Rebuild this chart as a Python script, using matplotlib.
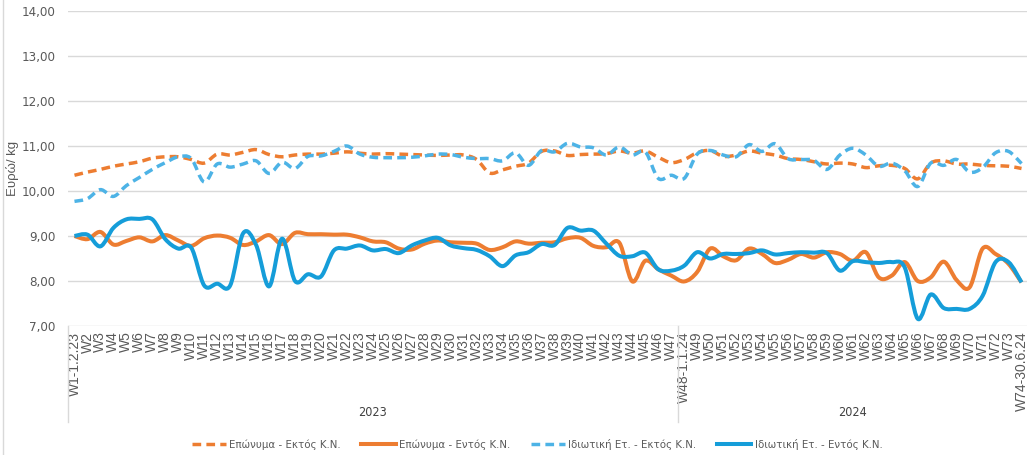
import numpy as np
import matplotlib
matplotlib.use('Agg')
import matplotlib.pyplot as plt
from matplotlib.path import Path
from matplotlib.patches import PathPatch
from matplotlib.lines import Line2D

plt.rcParams['font.family'] = ['Liberation Sans', 'DejaVu Sans']

# week categories W1..W74 (two year groups)
weeks = ['W1-1.2.23'] + ['W%d' % i for i in range(2, 48)] + ['W48-1.1.24'] + \
        ['W%d' % i for i in range(49, 74)] + ['W74-30.6.24']
years = ['2023', '2024']
year_span = [(1, 47), (48, 74)]

# Euro / kg
branded_out = [10.35, 10.42, 10.48, 10.55, 10.60, 10.65, 10.73, 10.76, 10.76, 10.70,
               10.62, 10.82, 10.80, 10.86, 10.92, 10.81, 10.76, 10.80, 10.82, 10.82,
               10.84, 10.87, 10.84, 10.82, 10.83, 10.82, 10.81, 10.80, 10.79, 10.80,
               10.80, 10.70, 10.40, 10.47, 10.55, 10.62, 10.88, 10.89, 10.79, 10.81,
               10.82, 10.83, 10.89, 10.84, 10.89, 10.75, 10.63, 10.70, 10.85, 10.90,
               10.77, 10.80, 10.89, 10.84, 10.80, 10.72, 10.70, 10.65, 10.60, 10.62,
               10.60, 10.52, 10.56, 10.57, 10.50, 10.27, 10.62, 10.67, 10.60, 10.60,
               10.57, 10.56, 10.55, 10.50]
branded_in = [9.00, 8.93, 9.09, 8.81, 8.89, 8.97, 8.88, 9.02, 8.90, 8.78,
              8.95, 9.01, 8.96, 8.80, 8.88, 9.02, 8.82, 9.07, 9.04, 9.04,
              9.03, 9.03, 8.97, 8.88, 8.86, 8.72, 8.70, 8.83, 8.90, 8.86,
              8.85, 8.83, 8.69, 8.75, 8.88, 8.83, 8.85, 8.86, 8.95, 8.96,
              8.78, 8.75, 8.85, 7.99, 8.45, 8.26, 8.12, 7.99, 8.20, 8.72,
              8.55, 8.46, 8.72, 8.60, 8.40, 8.47, 8.60, 8.52, 8.64, 8.60,
              8.45, 8.64, 8.08, 8.12, 8.42, 8.00, 8.08, 8.43, 8.02, 7.86,
              8.72, 8.60, 8.38, 7.97]
private_out = [9.77, 9.83, 10.03, 9.88, 10.12, 10.30, 10.48, 10.63, 10.76, 10.72,
               10.20, 10.60, 10.53, 10.60, 10.67, 10.39, 10.64, 10.50, 10.77, 10.78,
               10.88, 11.00, 10.82, 10.75, 10.74, 10.74, 10.75, 10.78, 10.82, 10.81,
               10.75, 10.72, 10.72, 10.67, 10.85, 10.57, 10.90, 10.87, 11.06, 10.98,
               10.96, 10.80, 10.98, 10.80, 10.87, 10.28, 10.35, 10.28, 10.82, 10.90,
               10.80, 10.76, 11.03, 10.88, 11.05, 10.72, 10.70, 10.68, 10.48, 10.80,
               10.95, 10.80, 10.55, 10.62, 10.45, 10.10, 10.62, 10.57, 10.70, 10.42,
               10.52, 10.85, 10.88, 10.61]
private_in = [9.00, 9.03, 8.77, 9.18, 9.37, 9.38, 9.37, 8.93, 8.72, 8.74,
              7.90, 7.94, 7.90, 9.06, 8.80, 7.88, 8.94, 8.00, 8.15, 8.10,
              8.68, 8.72, 8.79, 8.68, 8.71, 8.62, 8.79, 8.90, 8.96, 8.79,
              8.73, 8.69, 8.55, 8.33, 8.57, 8.64, 8.82, 8.80, 9.18, 9.12,
              9.12, 8.83, 8.56, 8.55, 8.63, 8.26, 8.23, 8.34, 8.64, 8.50,
              8.60, 8.60, 8.62, 8.68, 8.59, 8.62, 8.64, 8.63, 8.62, 8.23,
              8.44, 8.42, 8.40, 8.42, 8.30, 7.16, 7.70, 7.40, 7.38, 7.38,
              7.67, 8.42, 8.42, 7.97]

series = [
    ('Επώνυμα - Εκτός Κ.Ν.', branded_out, '#ED7D31', 'dash'),
    ('Επώνυμα - Εντός Κ.Ν.', branded_in, '#ED7D31', 'solid'),
    ('Ιδιωτική Ετ. - Εκτός Κ.Ν.', private_out, '#4DB3E6', 'dash'),
    ('Ιδιωτική Ετ. - Εντός Κ.Ν.', private_in, '#159DD9', 'solid'),
]
grey = '#595959'
cond = {'family': 'DejaVu Sans', 'stretch': 'condensed'}


def smooth_path(xs, ys):
    # excel style smoothed line: catmull-rom segments as cubic beziers
    pts = np.column_stack([xs, ys]).astype(float)
    p = np.vstack([pts[0], pts, pts[-1]])
    verts = [pts[0]]
    codes = [Path.MOVETO]
    for i in range(1, len(p) - 2):
        c1 = p[i] + (p[i + 1] - p[i - 1]) / 6
        c2 = p[i + 1] - (p[i + 2] - p[i]) / 6
        verts += [c1, c2, p[i + 1]]
        codes += [Path.CURVE4] * 3
    return Path(verts, codes)


fig = plt.figure(figsize=(10.27, 4.55), dpi=100)
ax = fig.add_axes([68 / 1027, 129 / 455, 960 / 1027, 315 / 455])

x = np.arange(1, len(weeks) + 1)
handles = []
for name, vals, col, style in series:
    if style == 'dash':
        lw, ls = 2.5, (0, (2.5, 1.5))
    else:
        lw, ls = 2.9, '-'
    patch = PathPatch(smooth_path(x, vals), fill=False, edgecolor=col, lw=lw,
                      linestyle=ls, capstyle='butt', joinstyle='round')
    ax.add_patch(patch)
    handles.append(Line2D([], [], color=col, lw=lw, linestyle=ls, label=name))

ax.set_xlim(0.5, len(weeks) + 0.5)
ax.set_ylim(7, 14)
ax.set_yticks(range(7, 15))
ax.set_yticklabels([('%.2f' % v).replace('.', ',') for v in range(7, 15)],
                   fontsize=9.5, **cond)
ax.set_xticks(x)
ax.set_xticklabels(weeks, rotation=90, fontsize=10)
ax.tick_params(axis='both', length=0, colors=grey)
ax.tick_params(axis='y', pad=9)
ax.tick_params(axis='x', pad=4)
ax.yaxis.grid(True, color='#D9D9D9', lw=1)
ax.set_axisbelow(True)
for s in ax.spines.values():
    s.set_visible(False)

ax.set_ylabel('Ευρώ/ kg', color=grey, fontsize=9.5)
ax.yaxis.set_label_coords(-0.051, 0.5)

# year group separators and labels under the week labels
tr = ax.get_xaxis_transform()
for xv in [0.5, 47.5, 74.5]:
    ax.plot([xv, xv], [0, -0.305], transform=tr, color='#D9D9D9', lw=1, clip_on=False)
for yr, (a, b) in zip(years, year_span):
    ax.text((a + b) / 2, -0.276, yr, transform=tr, ha='center', va='center',
            fontsize=9, color='#404040', **cond)

fig.add_artist(Line2D([3 / 1027, 3 / 1027], [0, 1], color='#D9D9D9', lw=1,
                      transform=fig.transFigure))

fig.legend(handles=handles, loc='center', bbox_to_anchor=(537 / 1027, 11 / 455),
           ncol=4, frameon=False, handlelength=3.0, handletextpad=0.3,
           columnspacing=1.8, prop=dict(cond, size=8.2), labelcolor=grey)

fig.savefig('out.png', dpi=100)
